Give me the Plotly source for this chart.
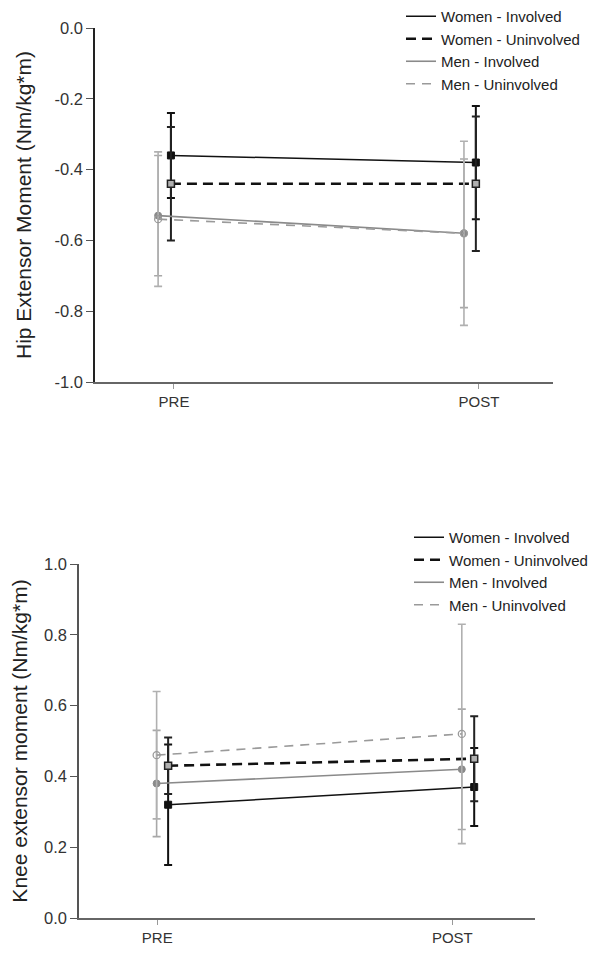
import plotly.graph_objects as go

# ---- data ----
time_points = ["PRE", "POST"]
series_names = ["Women - Involved", "Women - Uninvolved", "Men - Involved", "Men - Uninvolved"]

hip_women_involved = [-0.36, -0.38]
hip_women_involved_sd = [0.12, 0.16]
hip_women_uninvolved = [-0.44, -0.44]
hip_women_uninvolved_sd = [0.16, 0.19]
hip_men_involved = [-0.53, -0.58]
hip_men_involved_sd = [0.17, 0.21]
hip_men_uninvolved = [-0.54, -0.58]
hip_men_uninvolved_sd = [0.19, 0.26]

knee_women_involved = [0.32, 0.37]
knee_women_involved_sd = [0.17, 0.11]
knee_women_uninvolved = [0.43, 0.45]
knee_women_uninvolved_sd = [0.08, 0.12]
knee_men_involved = [0.38, 0.42]
knee_men_involved_sd = [0.15, 0.17]
knee_men_uninvolved = [0.46, 0.52]
knee_men_uninvolved_sd = [0.18, 0.31]

hip_ticks = [0.0, -0.2, -0.4, -0.6, -0.8, -1.0]
hip_tick_labels = ["0.0", "-0.2", "-0.4", "-0.6", "-0.8", "-1.0"]
knee_ticks = [0.0, 0.2, 0.4, 0.6, 0.8, 1.0]
knee_tick_labels = ["0.0", "0.2", "0.4", "0.6", "0.8", "1.0"]

# ---- styling ----
FONT = "Liberation Sans, Arial, sans-serif"
base_x = [1, 2]
styles = {
    "Women - Involved": dict(color="#111111", width=1.5, dash="solid",
                             marker=dict(symbol="square", size=7, color="#111111",
                                         line=dict(color="#111111", width=1)),
                             err="#111111"),
    "Women - Uninvolved": dict(color="#111111", width=2.6, dash="10px,6px",
                               marker=dict(symbol="square", size=7, color="#b0b0b0",
                                           line=dict(color="#222222", width=1.5)),
                               err="#222222"),
    "Men - Involved": dict(color="#8a8a8a", width=1.6, dash="solid",
                           marker=dict(symbol="circle", size=7, color="#8a8a8a",
                                       line=dict(color="#8a8a8a", width=1)),
                           err="#a8a8a8"),
    "Men - Uninvolved": dict(color="#9a9a9a", width=1.6, dash="9px,7px",
                             marker=dict(symbol="circle-open", size=7, color="#9a9a9a",
                                         line=dict(color="#9a9a9a", width=1.3)),
                             err="#b0b0b0"),
}

fig = go.Figure()


def add_panel(xaxis, yaxis, legend, values, offsets):
    for name, (y, sd) in zip(series_names, values):
        st = styles[name]
        xs = [b + o for b, o in zip(base_x, offsets[name])]
        fig.add_trace(go.Scatter(
            x=xs, y=y, mode="lines+markers", name=name, showlegend=False,
            xaxis=xaxis, yaxis=yaxis,
            line=dict(color=st["color"], width=st["width"], dash=st["dash"]),
            marker=st["marker"],
            error_y=dict(type="data", array=sd, visible=True, color=st["err"],
                         thickness=2 if "Women" in name else 1.6, width=4),
        ))
    for name in series_names:
        st = styles[name]
        fig.add_trace(go.Scatter(
            x=[None], y=[None], mode="lines", name=name, legend=legend,
            xaxis=xaxis, yaxis=yaxis,
            line=dict(color=st["color"], width=st["width"], dash=st["dash"]),
        ))


hip_offsets = {"Women - Involved": [-0.01, -0.01], "Women - Uninvolved": [-0.01, -0.01],
               "Men - Involved": [-0.052, -0.049], "Men - Uninvolved": [-0.052, -0.049]}
knee_offsets = {"Women - Involved": [0.037, 0.074], "Women - Uninvolved": [0.037, 0.074],
                "Men - Involved": [-0.002, 0.032], "Men - Uninvolved": [-0.002, 0.032]}

add_panel("x", "y", "legend",
          [(hip_women_involved, hip_women_involved_sd),
           (hip_women_uninvolved, hip_women_uninvolved_sd),
           (hip_men_involved, hip_men_involved_sd),
           (hip_men_uninvolved, hip_men_uninvolved_sd)], hip_offsets)
add_panel("x2", "y2", "legend2",
          [(knee_women_involved, knee_women_involved_sd),
           (knee_women_uninvolved, knee_women_uninvolved_sd),
           (knee_men_involved, knee_men_involved_sd),
           (knee_men_uninvolved, knee_men_uninvolved_sd)], knee_offsets)

xcommon = dict(tickmode="array", tickvals=base_x, ticktext=time_points, automargin=False,
               showgrid=False, zeroline=False, showline=True, linecolor="#666666",
               linewidth=1.5, ticks="outside", ticklen=5, tickcolor="#999999",
               tickwidth=1, tickfont=dict(family=FONT, size=15, color="#333333"))
ycommon = dict(showgrid=False, zeroline=False, showline=True, linewidth=1.5, automargin=False,
               ticks="outside", ticklen=7, tickcolor="#555555", tickwidth=1,
               tickfont=dict(family=FONT, size=16.5, color="#333333"))

legend_common = dict(xanchor="left", yanchor="top", xref="container", yref="container",
                     bgcolor="rgba(0,0,0,0)", borderwidth=0, tracegroupgap=0,
                     itemwidth=30, font=dict(family=FONT, size=15, color="#222222"))

fig.update_layout(
    width=600, height=955,
    margin=dict(l=0, r=0, t=0, b=0, autoexpand=False),
    paper_bgcolor="white", plot_bgcolor="white",
    font=dict(family=FONT, color="#222222"),
    xaxis=dict(domain=[95 / 600, 553 / 600], range=[0.741, 2.243], anchor="y", **xcommon),
    yaxis=dict(domain=[1 - 382 / 955, 1 - 28 / 955], range=[-1.0, 0.0], anchor="x",
               tickvals=hip_ticks, ticktext=hip_tick_labels, linecolor="#222222",
               title=dict(text="Hip Extensor Moment (Nm/kg*m)", standoff=17,
                          font=dict(family=FONT, size=21, color="#222222")),
               **ycommon),
    xaxis2=dict(domain=[79 / 600, 535 / 600], range=[0.735, 2.28], anchor="y2", **xcommon),
    yaxis2=dict(domain=[1 - 918 / 955, 1 - 564 / 955], range=[0.0, 1.0], anchor="x2",
                tickvals=knee_ticks, ticktext=knee_tick_labels, linecolor="#555555",
                title=dict(text="Knee extensor moment (Nm/kg*m)", standoff=11,
                           font=dict(family=FONT, size=21, color="#222222")),
                **ycommon),
    legend=dict(x=401 / 600, y=1.0, **legend_common),
    legend2=dict(x=409 / 600, y=1 - 521 / 955, **legend_common),
    showlegend=True,
)

fig.write_html("out.html", config={"displayModeBar": False},
               post_script="document.body.style.margin='0';document.body.style.overflow='hidden';")
